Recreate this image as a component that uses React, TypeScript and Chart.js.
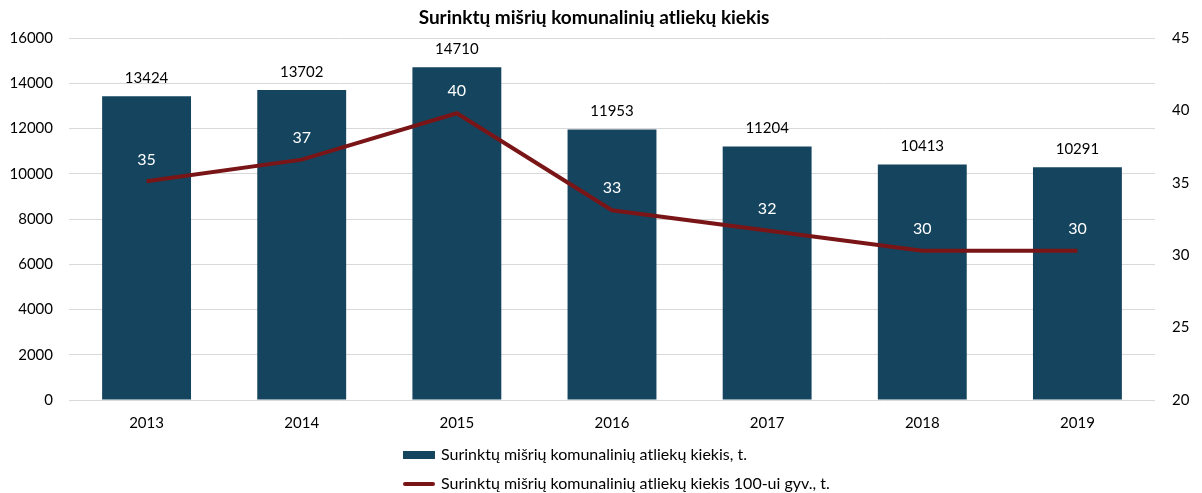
import React, { useEffect, useRef } from "react";
import { Chart, registerables } from "chart.js";

Chart.register(...registerables);

const years = ["2013", "2014", "2015", "2016", "2017", "2018", "2019"];
const totalWaste = [13424, 13702, 14710, 11953, 11204, 10413, 10291];
const wastePer100 = [35.1, 36.6, 39.8, 33.1, 31.7, 30.3, 30.3];
const leftTicks = [0, 2000, 4000, 6000, 8000, 10000, 12000, 14000, 16000];
const rightTicks = [20, 25, 30, 35, 40, 45];

const TITLE = "Surinktų mišrių komunalinių atliekų kiekis";
const BAR_LABEL = "Surinktų mišrių komunalinių atliekų kiekis, t.";
const LINE_LABEL = "Surinktų mišrių komunalinių atliekų kiekis 100-ui gyv., t.";

const BAR_COLOR = "#15445f";
const LINE_COLOR = "#7a1517";
const FONT = "Lato, 'Open Sans', sans-serif";

const labelsPlugin = {
  id: "customLabels",
  afterDatasetsDraw(chart: any) {
    const ctx = chart.ctx;
    ctx.save();
    ctx.textAlign = "center";
    ctx.textBaseline = "middle";
    const barMeta = chart.getDatasetMeta(0);
    ctx.font = `15px ${FONT}`;
    ctx.fillStyle = "#000";
    barMeta.data.forEach((el: any, i: number) => {
      ctx.fillText(String(totalWaste[i]), el.x, el.y - 18);
    });
    const lineMeta = chart.getDatasetMeta(1);
    ctx.font = `16px ${FONT}`;
    ctx.fillStyle = "#fff";
    lineMeta.data.forEach((el: any, i: number) => {
      ctx.fillText(String(Math.round(wastePer100[i])), el.x, el.y - 22);
    });
    ctx.restore();
  },
  afterDraw(chart: any) {
    const ctx = chart.ctx;
    ctx.save();
    ctx.font = `bold 19px ${FONT}`;
    ctx.fillStyle = "#000";
    ctx.textAlign = "center";
    ctx.textBaseline = "middle";
    ctx.fillText(TITLE, 586, 10);
    const lx = 395;
    ctx.textAlign = "left";
    ctx.font = `16px ${FONT}`;
    ctx.fillStyle = BAR_COLOR;
    ctx.fillRect(lx, 443, 32, 8);
    ctx.fillStyle = "#000";
    ctx.fillText(BAR_LABEL, lx + 38, 447);
    ctx.strokeStyle = LINE_COLOR;
    ctx.lineWidth = 4;
    ctx.lineCap = "round";
    ctx.beginPath();
    ctx.moveTo(lx + 2, 476);
    ctx.lineTo(lx + 30, 476);
    ctx.stroke();
    ctx.fillText(LINE_LABEL, lx + 38, 476);
    ctx.restore();
  },
};

export default function App() {
  const ref = useRef<HTMLCanvasElement>(null);
  useEffect(() => {
    if (!ref.current) return;
    const chart = new Chart(ref.current, {
      type: "bar",
      data: {
        labels: years,
        datasets: [
          {
            type: "bar",
            label: BAR_LABEL,
            data: totalWaste,
            backgroundColor: BAR_COLOR,
            yAxisID: "y",
            barPercentage: 0.573,
            categoryPercentage: 1,
            order: 2,
          },
          {
            type: "line",
            label: LINE_LABEL,
            data: wastePer100,
            borderColor: LINE_COLOR,
            backgroundColor: LINE_COLOR,
            borderWidth: 4,
            pointRadius: 0,
            tension: 0,
            yAxisID: "y1",
            order: 1,
          } as any,
        ],
      },
      options: {
        responsive: false,
        maintainAspectRatio: false,
        animation: false,
        layout: { padding: { top: 30, bottom: 47, left: 0, right: 0 } },
        plugins: {
          legend: { display: false },
          title: { display: false },
          tooltip: { enabled: false },
        },
        scales: {
          x: {
            grid: { display: false, drawTicks: false },
            border: { display: false },
            ticks: { color: "#000", font: { family: FONT, size: 15 }, padding: 14 },
          },
          y: {
            position: "left",
            min: 0,
            max: 16000,
            afterBuildTicks: (s: any) => {
              s.ticks = leftTicks.map((v) => ({ value: v }));
            },
            afterFit: (s: any) => {
              s.width = 61;
            },
            grid: { color: "#d9d9d9", lineWidth: 1, drawTicks: false },
            border: { display: false },
            ticks: {
              color: "#000",
              font: { family: FONT, size: 15 },
              padding: 16,
              callback: (v: any) => String(v),
            },
          },
          y1: {
            position: "right",
            min: 20,
            max: 45,
            afterBuildTicks: (s: any) => {
              s.ticks = rightTicks.map((v) => ({ value: v }));
            },
            afterFit: (s: any) => {
              s.width = 39;
            },
            grid: { display: false, drawTicks: false },
            border: { display: false },
            ticks: {
              color: "#000",
              font: { family: FONT, size: 15 },
              padding: 17,
              callback: (v: any) => String(v),
            },
          },
        },
      },
      plugins: [labelsPlugin],
    });
    return () => chart.destroy();
  }, []);
  return <canvas ref={ref} width={1186} height={485} style={{ display: "block" }} />;
}
